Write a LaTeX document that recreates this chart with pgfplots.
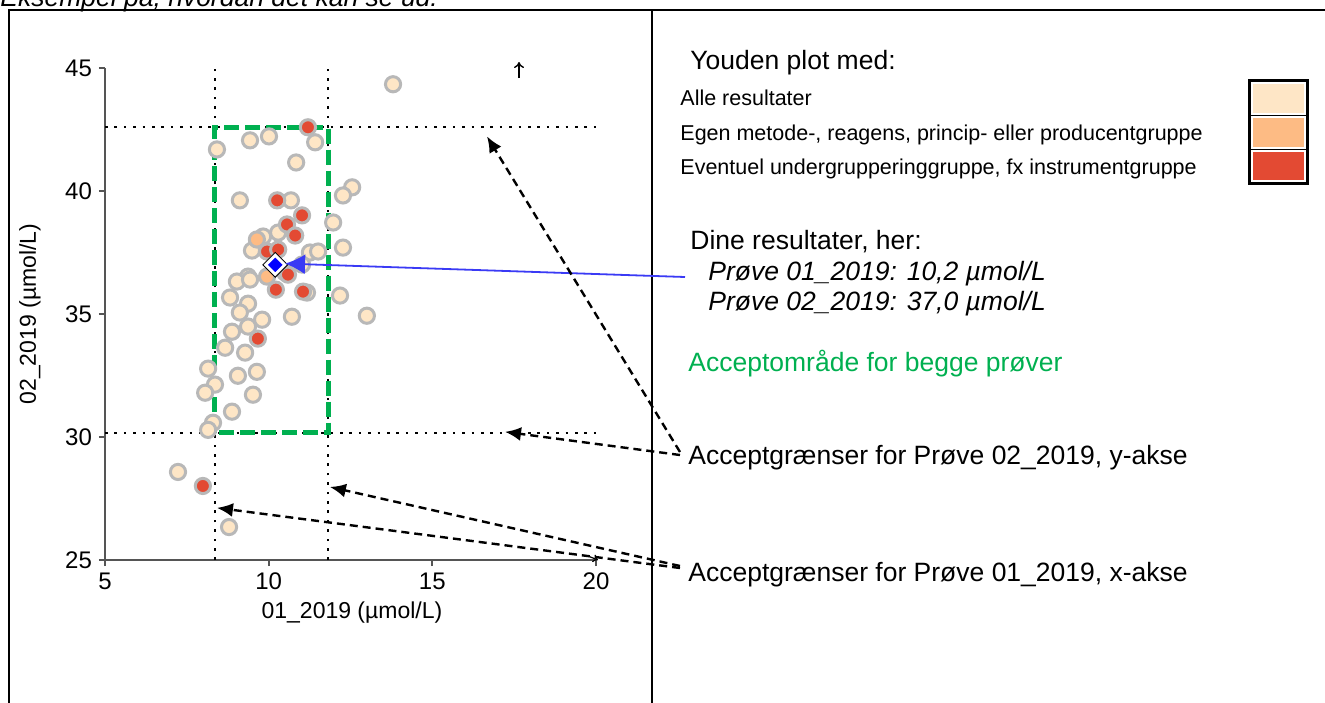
\documentclass[border=0pt]{standalone}
\usepackage{pgfplots}
\pgfplotsset{compat=1.18}
\usepackage{fontspec}
\setmainfont{Liberation Sans}
\usetikzlibrary{arrows.meta}
\definecolor{peach}{HTML}{FEE6C6}
\definecolor{orng}{HTML}{FDBB84}
\definecolor{redd}{HTML}{E34A33}
\definecolor{ring}{HTML}{B8B8B8}
\definecolor{accgreen}{HTML}{00B050}
\definecolor{axgray}{HTML}{555555}
\definecolor{arrowblue}{HTML}{3A3AF5}
\newcommand{\bigtxt}{\fontsize{13.25}{15}\selectfont}
\newcommand{\smalltxt}{\fontsize{10.75}{13}\selectfont}
\begin{document}
\begin{tikzpicture}[x=0.5pt,y=-0.5pt]
\useasboundingbox (0,0) rectangle (1325,702);
\node[anchor=base west, inner sep=0, font=\bigtxt\itshape] at (0,6) {Eksempel på, hvordan det kan se ud:};
\draw[line width=1pt] (9,740) -- (9,10) -- (1340,10);
\draw[line width=1pt] (652,10) -- (652,740);
\coordinate (O) at (105,560);
\begin{axis}[at={(O)}, anchor=south west, scale only axis,
  width=245.5pt, height=246pt,
  xmin=5, xmax=20, ymin=25, ymax=45,
  axis lines=left, axis line style={-, axgray, line width=1pt},
  xtick={5,10,15,20}, ytick={25,30,35,40,45},
  tick align=outside, major tick length=3pt,
  tick style={axgray, line width=1pt},
  ticklabel style={font=\fontsize{12}{14}\selectfont},
  /pgf/number format/assume math mode=true,
  xlabel={01\_2019 (µmol/L)}, ylabel={02\_2019 (µmol/L)},
  label style={font=\fontsize{11.5}{13}\selectfont},
  xlabel style={at={(axis description cs:0.503,-0.106)}, anchor=center},
  ylabel style={at={(axis description cs:-0.153,0.5)}, anchor=center},
  clip=false]
\draw[black, line width=1.1pt, dash pattern=on 1.3pt off 3.4pt] (axis cs:5,42.59) -- (axis cs:20,42.59);
\draw[black, line width=1.1pt, dash pattern=on 1.3pt off 3.4pt] (axis cs:5,30.17) -- (axis cs:20,30.17);
\draw[black, line width=1.1pt, dash pattern=on 1.3pt off 3.4pt] (axis cs:8.36,25) -- (axis cs:8.36,45);
\draw[black, line width=1.1pt, dash pattern=on 1.3pt off 3.4pt] (axis cs:11.82,25) -- (axis cs:11.82,45);
\addplot[only marks, mark=*, mark size=3.8pt, mark options={fill=peach, draw=ring, line width=1.5pt}] coordinates {
(13.80,44.34) (8.42,41.69) (9.43,42.06) (10.01,42.22) (11.42,41.98) (10.84,41.16)
(9.12,39.62) (12.55,40.15) (12.27,39.82) (10.68,39.62) (10.29,38.31) (9.83,38.15)
(9.49,37.58) (11.26,37.50) (11.51,37.54) (11.97,38.72) (12.27,37.70) (11.02,37.01)
(10.50,36.69) (9.37,36.52) (9.03,36.32) (9.43,36.40) (11.17,35.87) (12.18,35.75)
(8.82,35.67) (9.37,35.42) (9.12,35.06) (9.80,34.77) (10.71,34.89) (13.00,34.93)
(9.37,34.49) (8.88,34.28) (8.67,33.63) (9.28,33.43) (8.15,32.78) (9.06,32.49)
(9.64,32.65) (8.36,32.13) (8.06,31.80) (9.52,31.72) (8.88,31.03) (8.30,30.58)
(8.15,30.29) (7.23,28.58) (8.79,26.34)
};
\addplot[only marks, mark=*, mark size=3.8pt, mark options={fill=orng, draw=ring, line width=1.5pt}] coordinates {
(9.64,38.03) (9.95,36.52)
};
\addplot[only marks, mark=*, mark size=3.8pt, mark options={fill=redd, draw=ring, line width=1.5pt}] coordinates {
(11.20,42.59) (10.26,39.62) (11.02,39.01) (10.56,38.64) (10.81,38.19) (9.95,37.54)
(10.29,37.62) (10.59,36.60) (10.22,35.99) (11.05,35.91) (9.67,34.00) (7.99,28.01)
};
\draw[accgreen, line width=2.5pt, dash pattern=on 7.5pt off 3pt] (axis cs:8.36,30.17) rectangle (axis cs:11.82,42.59);
\addplot[only marks, mark=square*, mark size=4.4pt, mark options={rotate=45, fill=ring, draw=none}] coordinates {(10.2,37.0)};
\addplot[only marks, mark=square*, mark size=3.3pt, mark options={rotate=45, fill=blue, draw=white, line width=1.3pt}] coordinates {(10.2,37.0)};
\coordinate (tb) at (axis cs:10.5,37.05);
\coordinate (t1) at (axis cs:16.67,42.22);
\coordinate (t2) at (axis cs:17.22,30.21);
\coordinate (t3) at (axis cs:11.87,27.97);
\coordinate (t4) at (axis cs:8.42,27.12);
\end{axis}
\draw[line width=0.7pt, -{To[length=3pt,width=5pt]}] (519,78) -- (519,62);
\draw[line width=0.6pt, -{To[length=2.5pt,width=4pt]}] (588,556) -- (598,560);
\draw[arrowblue, line width=0.9pt, -{Latex[length=10pt,width=10pt]}] (685,277) -- (tb);
\draw[black, line width=1.2pt, dash pattern=on 4pt off 2.5pt, -{Latex[length=8pt,width=7pt]}] (680,452) -- (t1);
\draw[black, line width=1.2pt, dash pattern=on 4pt off 2.5pt, -{Latex[length=8pt,width=7pt]}] (680,455) -- (t2);
\draw[black, line width=1.2pt, dash pattern=on 4pt off 2.5pt, -{Latex[length=8pt,width=7pt]}] (680,566) -- (t3);
\draw[black, line width=1.2pt, dash pattern=on 4pt off 2.5pt, -{Latex[length=8pt,width=7pt]}] (680,568) -- (t4);
\node[anchor=base west, inner sep=0, font=\bigtxt] at (690,69) {Youden plot med:};
\node[anchor=base west, inner sep=0, font=\smalltxt] at (680,105) {Alle resultater};
\node[anchor=base west, inner sep=0, font=\smalltxt] at (680,140) {Egen metode-, reagens, princip- eller producentgruppe};
\node[anchor=base west, inner sep=0, font=\smalltxt] at (680,174) {Eventuel undergrupperinggruppe, fx instrumentgruppe};
\node[anchor=base west, inner sep=0, font=\bigtxt] at (690,249) {Dine resultater, her:};
\node[anchor=base west, inner sep=0, font=\bigtxt\itshape] at (708,280) {Prøve 01\_2019: 10,2 µmol/L};
\node[anchor=base west, inner sep=0, font=\bigtxt\itshape] at (708,310) {Prøve 02\_2019: 37,0 µmol/L};
\node[anchor=base west, inner sep=0, font=\bigtxt, text=accgreen] at (688,371) {Acceptområde for begge prøver};
\node[anchor=base west, inner sep=0, font=\bigtxt] at (688,464) {Acceptgrænser for Prøve 02\_2019, y-akse};
\node[anchor=base west, inner sep=0, font=\bigtxt] at (688,581) {Acceptgrænser for Prøve 01\_2019, x-akse};
\fill[black] (1248,79) rectangle (1309,185);
\fill[white] (1251,82) rectangle (1306,115);
\fill[peach] (1253,84) rectangle (1304,113);
\fill[white] (1251,116) rectangle (1306,149);
\fill[orng] (1253,118) rectangle (1304,147);
\fill[white] (1251,150) rectangle (1306,182);
\fill[redd] (1253,152) rectangle (1304,180);
\end{tikzpicture}
\end{document}
